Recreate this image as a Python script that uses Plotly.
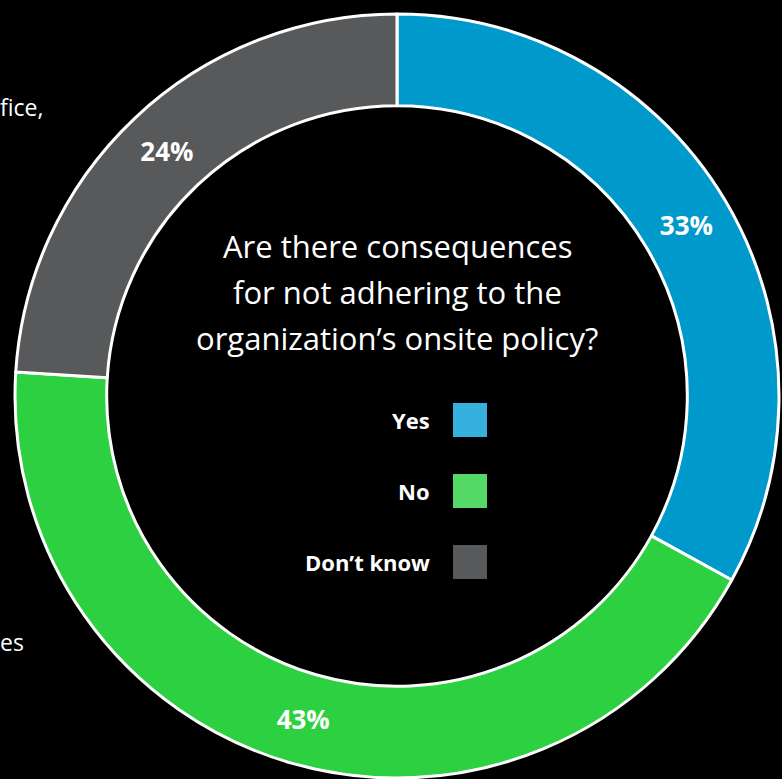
import plotly.graph_objects as go

labels = ["Yes", "No", "Don\u2019t know"]
values = [33, 43, 24]
slice_colors = ["#0099CC", "#2DD040", "#58595B"]
legend_colors = ["#36B0DC", "#55D966", "#58595B"]
title_lines = ["Are there consequences", "for not adhering to the", "organization\u2019s onsite policy?"]
edge_texts = ["fice,", "es"]

W, H = 782, 779
FONT = "Open Sans"

fig = go.Figure()
fig.add_trace(go.Pie(
    labels=labels, values=values, sort=False, direction="clockwise", rotation=0,
    hole=0.76,
    marker=dict(colors=slice_colors, line=dict(color="white", width=3)),
    texttemplate="<b>%{value}%</b>", textposition="inside",
    insidetextorientation="horizontal",
    textfont=dict(color="white", size=26, family=FONT),
    domain=dict(x=[15 / W, 779 / W], y=[1 / H, 765 / H]),
    showlegend=False, hoverinfo="label+percent",
))

annotations = []
for i, line in enumerate(title_lines):
    annotations.append(dict(
        x=397 / W, y=1 - (246 + 46 * i) / H, xref="paper", yref="paper",
        text=line, showarrow=False, xanchor="center", yanchor="middle",
        font=dict(color="white", size=31, family=FONT),
    ))

shapes = []
for i, (lab, col) in enumerate(zip(labels, legend_colors)):
    yc = 420 + 71 * i
    shapes.append(dict(
        type="rect", xref="paper", yref="paper",
        x0=453 / W, x1=487 / W, y0=1 - (yc + 17) / H, y1=1 - (yc - 17) / H,
        fillcolor=col, line=dict(width=0),
    ))
    annotations.append(dict(
        x=432 / W, y=1 - yc / H, xref="paper", yref="paper",
        text="<b>" + lab + "</b>", showarrow=False, xanchor="right", yanchor="middle",
        font=dict(color="white", size=22, family=FONT),
    ))

# Partial text from a neighbouring panel at the left edge
for txt, yc in zip(edge_texts, [107, 642]):
    annotations.append(dict(x=0, y=1 - yc / H, xref="paper", yref="paper",
                            text=txt, showarrow=False, xanchor="left", yanchor="middle",
                            xshift=-2,
                            font=dict(color="white", size=23, family=FONT)))

fig.update_layout(
    width=W, height=H, margin=dict(l=0, r=0, t=0, b=0),
    paper_bgcolor="black", plot_bgcolor="black",
    annotations=annotations, shapes=shapes,
)

fig.write_html("out.html")
